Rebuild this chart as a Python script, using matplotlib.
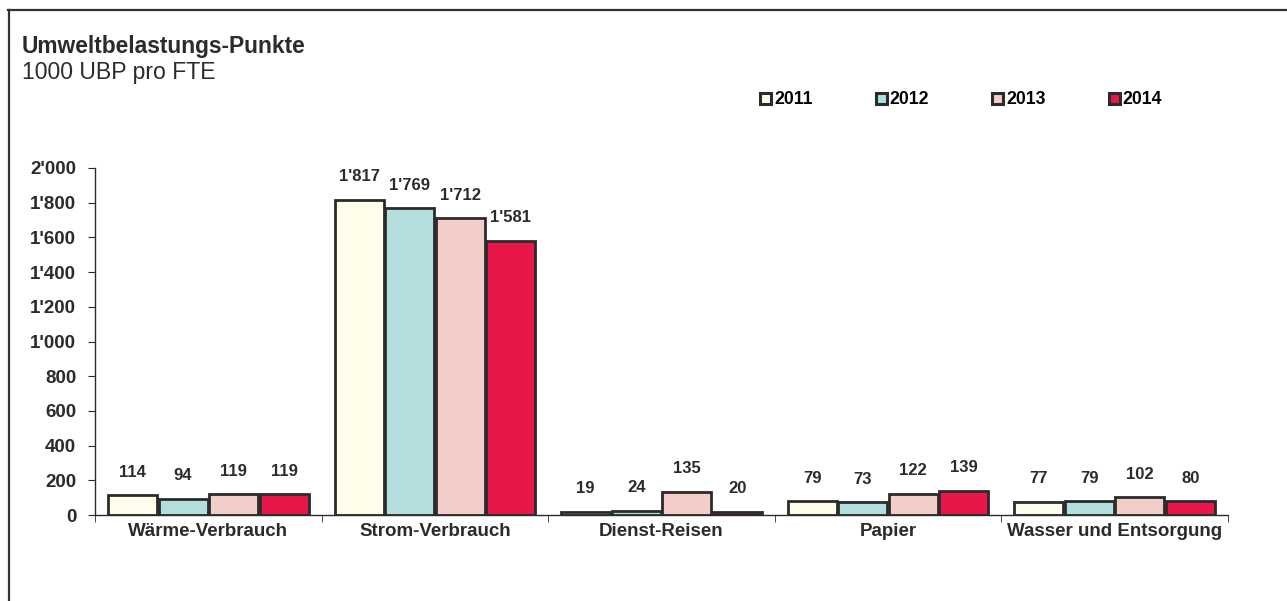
import numpy as np
import matplotlib.pyplot as plt
from matplotlib import font_manager
from matplotlib.patches import Patch
from matplotlib.lines import Line2D
from matplotlib.ticker import FuncFormatter, FixedLocator

plt.rcParams['font.family'] = ['Liberation Sans', 'DejaVu Sans']

categories = ['Wärme-Verbrauch', 'Strom-Verbrauch', 'Dienst-Reisen', 'Papier',
              'Wasser und Entsorgung']
years = ['2011', '2012', '2013', '2014']
v2011 = [114, 1817, 19, 79, 77]
v2012 = [94, 1769, 24, 73, 79]
v2013 = [119, 1712, 135, 122, 102]
v2014 = [119, 1581, 20, 139, 80]
series = [v2011, v2012, v2013, v2014]
colors = ['#fdfde9', '#b2dede', '#f3cdc8', '#e8174a']
ink = '#2b2b2b'

# value labels in the original use a condensed bold face
installed = {f.name for f in font_manager.fontManager.ttflist}
if 'Liberation Sans Narrow' in installed:
    lab_family, lab_size = ['Liberation Sans Narrow', 'Liberation Sans'], 14.5
else:
    lab_family, lab_size = ['Liberation Sans', 'DejaVu Sans'], 12


def swiss(v, pos=None):
    return f'{int(v):,}'.replace(',', "'")


fig = plt.figure(figsize=(12.87, 6.01), dpi=100)
ax = fig.add_axes([95 / 1287, 1 - 515 / 601, (1228 - 95) / 1287, (515 - 168) / 601])

x = np.arange(len(categories))
w = 0.223
for i, (vals, c) in enumerate(zip(series, colors)):
    xs = x + (i - 1.5) * w
    ax.bar(xs, vals, width=w * 0.97, color=c, edgecolor=ink, linewidth=2.0,
           label=years[i])
    for xi, v in zip(xs, vals):
        ax.annotate(swiss(v), (xi, v), xytext=(0, 16.5), textcoords='offset points',
                    ha='center', va='center', fontsize=lab_size, fontweight='bold',
                    color=ink, family=lab_family)

ax.set_xlim(-0.5, len(categories) - 0.5)
ax.set_ylim(0, 2000)
ax.set_yticks(np.arange(0, 2001, 200))
ax.yaxis.set_major_formatter(FuncFormatter(swiss))
ax.set_xticks(x)
ax.set_xticklabels(categories)
ax.xaxis.set_minor_locator(FixedLocator(np.arange(-0.5, len(categories), 1.0)))
ax.tick_params(axis='x', which='major', length=0, pad=6)
ax.tick_params(axis='x', which='minor', length=5, direction='out', color=ink)
ax.tick_params(axis='y', length=5, color=ink, pad=8.5)
for lab in ax.get_xticklabels() + ax.get_yticklabels():
    lab.set_fontsize(13.5)
    lab.set_fontweight('bold')
    lab.set_color(ink)
for s in ['top', 'right']:
    ax.spines[s].set_visible(False)
for s in ['left', 'bottom']:
    ax.spines[s].set_color(ink)
    ax.spines[s].set_linewidth(1.0)

handles = [Patch(facecolor=c, edgecolor=ink, linewidth=2.2) for c in colors]
fig.legend(handles, years, loc='center left', bbox_to_anchor=(760 / 1287, 1 - 100 / 601),
           ncol=4, frameon=False, borderpad=0, borderaxespad=0,
           handlelength=0.62, handleheight=0.62, handletextpad=0.17,
           columnspacing=3.58, prop={'weight': 'bold', 'size': 12.7})

fig.text(22 / 1287, 1 - 47 / 601, 'Umweltbelastungs-Punkte', fontsize=16.4,
         fontweight='bold', color=ink, va='center')
fig.text(22 / 1287, 1 - 73 / 601, '1000 UBP pro FTE', fontsize=16.6,
         color=ink, va='center')

# outer frame (top and left edge of the scanned box)
fig.add_artist(Line2D([8 / 1287, 1.0], [1 - 10 / 601, 1 - 10 / 601],
                      transform=fig.transFigure, color='#333333', linewidth=1.6))
fig.add_artist(Line2D([9 / 1287, 9 / 1287], [0, 1 - 10 / 601],
                      transform=fig.transFigure, color='#333333', linewidth=1.6))

fig.savefig('out.png', dpi=100)
